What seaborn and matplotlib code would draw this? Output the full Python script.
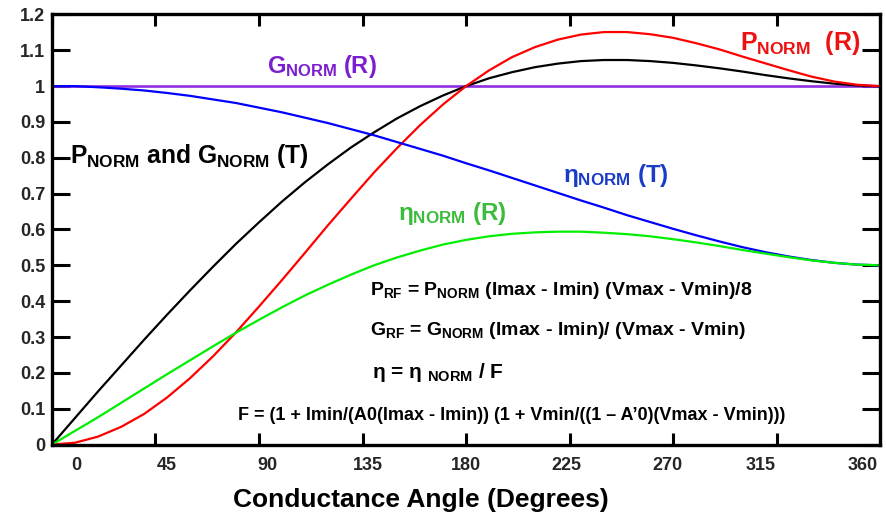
import numpy as np
import pandas as pd
import matplotlib
matplotlib.use("Agg")
import matplotlib.pyplot as plt
import seaborn as sns

# ---------------- data ----------------
angle = [0, 10, 20, 30, 40, 50, 60, 70, 80, 90, 100, 110, 120, 130, 140, 150, 160, 170, 180,
         190, 200, 210, 220, 230, 240, 250, 260, 270, 280, 290, 300, 310, 320, 330, 340, 350, 360]

p_norm_t = [0.000, 0.074, 0.148, 0.220, 0.292, 0.362, 0.430, 0.496, 0.560, 0.620, 0.678, 0.732,
            0.782, 0.829, 0.871, 0.910, 0.944, 0.974, 1.000, 1.022, 1.039, 1.053, 1.063, 1.070,
            1.073, 1.073, 1.070, 1.065, 1.058, 1.050, 1.041, 1.031, 1.022, 1.014, 1.007, 1.002, 1.000]

p_norm_r = [0.000, 0.005, 0.022, 0.049, 0.085, 0.131, 0.185, 0.246, 0.313, 0.385, 0.459, 0.535,
            0.612, 0.686, 0.759, 0.827, 0.891, 0.949, 1.000, 1.044, 1.081, 1.109, 1.130, 1.144,
            1.151, 1.151, 1.145, 1.135, 1.120, 1.103, 1.083, 1.064, 1.045, 1.027, 1.013, 1.004, 1.000]

eta_norm_t = [1.000, 1.000, 0.997, 0.993, 0.988, 0.981, 0.973, 0.963, 0.953, 0.940, 0.927, 0.912,
              0.897, 0.880, 0.863, 0.844, 0.825, 0.806, 0.785, 0.765, 0.744, 0.723, 0.702, 0.681,
              0.661, 0.640, 0.621, 0.602, 0.584, 0.567, 0.551, 0.537, 0.525, 0.515, 0.507, 0.502, 0.500]

eta_norm_r = [0.000, 0.038, 0.076, 0.116, 0.156, 0.196, 0.235, 0.274, 0.312, 0.348, 0.383, 0.416,
              0.446, 0.474, 0.500, 0.522, 0.541, 0.558, 0.571, 0.581, 0.588, 0.592, 0.594, 0.594,
              0.591, 0.587, 0.581, 0.573, 0.564, 0.554, 0.543, 0.533, 0.523, 0.514, 0.507, 0.502, 0.500]

g_angle = [0, 360]
g_norm_r = [1.0, 1.0]

x_ticks = [0, 45, 90, 135, 180, 225, 270, 315, 360]
x_tick_labels = ["0", "45", "90", "135", "180", "225", "270", "315", "360"]
y_ticks = [0, 0.1, 0.2, 0.3, 0.4, 0.5, 0.6, 0.7, 0.8, 0.9, 1.0, 1.1, 1.2]
y_tick_labels = ["0", "0.1", "0.2", "0.3", "0.4", "0.5", "0.6", "0.7", "0.8", "0.9", "1", "1.1", "1.2"]

# ---------------- style ----------------
sns.set_theme(style="ticks")
plt.rcParams["font.family"] = ["Liberation Sans", "DejaVu Sans"]
plt.rcParams["font.weight"] = "bold"
plt.rcParams["mathtext.fontset"] = "custom"
plt.rcParams["mathtext.rm"] = "Liberation Sans:bold"
plt.rcParams["mathtext.it"] = "Liberation Sans:bold"
plt.rcParams["mathtext.bf"] = "Liberation Sans:bold"
plt.rcParams["mathtext.sf"] = "Liberation Sans:bold"

W, H = 887, 516
fig = plt.figure(figsize=(W / 100, H / 100), dpi=100)
fig.patch.set_facecolor("white")
ax = fig.add_axes([52 / W, 1 - 444.5 / H, (880 - 52) / W, (444.5 - 14.5) / H])
ax.set_facecolor("white")

# purple constant line first
sns.lineplot(x=g_angle, y=g_norm_r, ax=ax, color="#8f2fe0", linewidth=1.9, legend=False)

frames = []
for name, vals in [("P_T", p_norm_t), ("P_R", p_norm_r), ("ETA_T", eta_norm_t), ("ETA_R", eta_norm_r)]:
    frames.append(pd.DataFrame({"angle": angle, "value": vals, "series": name}))
df = pd.concat(frames, ignore_index=True)

palette = {"P_T": "#000000", "P_R": "#ff0000", "ETA_T": "#0000ff", "ETA_R": "#00ee00"}
sns.lineplot(data=df, x="angle", y="value", hue="series", hue_order=["P_T", "P_R", "ETA_T", "ETA_R"],
             palette=palette, linewidth=1.6, legend=False, ax=ax, sort=False)

ax.set_xlim(0, 360)
ax.set_ylim(0, 1.2)

# major ticks (inward, both sides) without labels on x
ax.xaxis.remove_overlapping_locs = False
ax.set_xticks(x_ticks)
ax.set_xticklabels([])
ax.tick_params(axis="x", which="major", direction="in", length=8.8, width=2.2, top=True, bottom=True,
               labelbottom=False, color="black")
# x tick labels drawn at the slightly shifted positions seen in the reference
lab_px = [76.5, 167, 267, 368, 466, 566, 667, 761, 863]
lab_pos = [(p - 52) / 2.3 for p in lab_px]
ax.set_xticks(lab_pos, minor=True)
ax.set_xticklabels(x_tick_labels, minor=True, fontsize=13, fontweight="bold")
ax.tick_params(axis="x", which="minor", length=0, pad=9, labelbottom=True, top=False)

ax.set_yticks(y_ticks)
ax.set_yticklabels(y_tick_labels, fontsize=13, fontweight="bold")
ax.tick_params(axis="y", which="major", direction="in", length=13, width=2.2, left=True, right=True,
               pad=5, color="black")

for s in ax.spines.values():
    s.set_linewidth(2.4)
    s.set_color("black")
    s.set_visible(True)

ax.set_xlabel("")
ax.set_ylabel("")


def ftext(x, y, s, size, color="black"):
    fig.text(x / W, 1 - y / H, s, fontsize=size, color=color, fontweight="bold",
             ha="left", va="baseline")


ftext(267, 73, r"$G_{NORM}$ (R)", 17, "#7a1fd0")
ftext(70, 163, r"$P_{NORM}$ and $G_{NORM}$ (T)", 17.7, "black")
ftext(740, 50, r"$P_{NORM}$  (R)", 18, "#ee1111")
ftext(563, 182, r"$η_{NORM}$ (T)", 17.5, "#1a3cc8")
ftext(398, 220, r"$η_{NORM}$ (R)", 17.5, "#3cbc3c")
ftext(370, 295, r"$P_{RF}$ = $P_{NORM}$ (Imax - Imin) (Vmax - Vmin)/8", 14)
ftext(370, 335, r"$G_{RF}$ = $G_{NORM}$ (Imax - Imin)/ (Vmax - Vmin)", 14)
ftext(372, 378, r"η = η $_{NORM}$ / F", 15)
ftext(238, 420, "F = (1 + Imin/(A0(Imax - Imin)) (1 + Vmin/((1 \u2013 A\u20190)(Vmax - Vmin)))", 13)
ftext(233, 507, "Conductance Angle (Degrees)", 19)

fig.savefig("out.png", dpi=100, facecolor="white")
